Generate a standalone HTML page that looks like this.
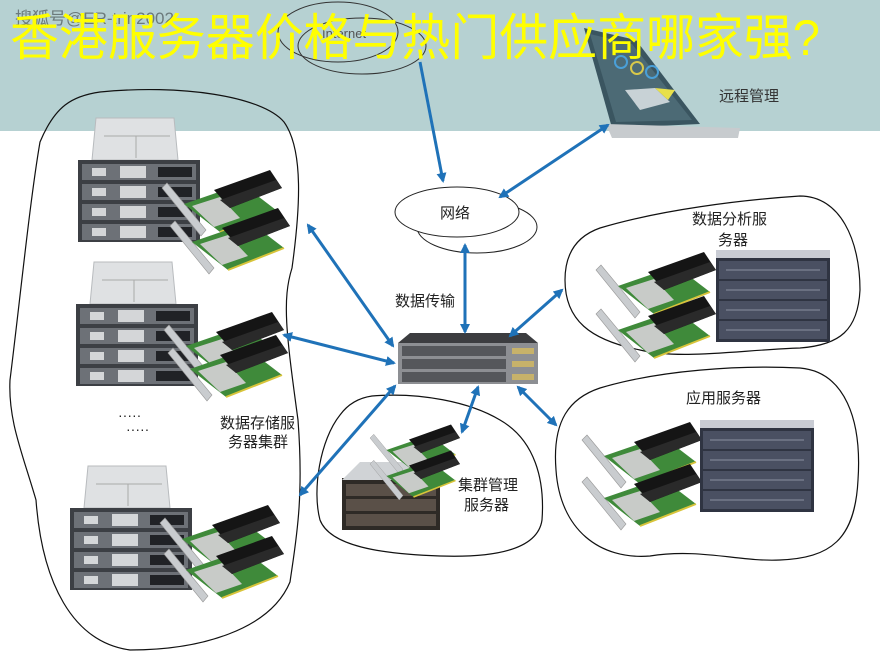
<!DOCTYPE html>
<html><head><meta charset="utf-8"><style>
html,body{margin:0;padding:0;background:#fff;}
svg{display:block;}
text{font-family:"Liberation Sans","Noto Sans CJK SC",sans-serif;}
</style></head><body>
<svg width="880" height="656" viewBox="0 0 880 656" xmlns="http://www.w3.org/2000/svg">
<defs>
<marker id="ah" markerWidth="10" markerHeight="10" refX="8" refY="5" orient="auto-start-reverse" markerUnits="userSpaceOnUse">
<path d="M0,0 L10,5 L0,10 Z" fill="#1f72b8"/>
</marker>
<g id="srv">
<polygon points="18,0 96,0 100,42 14,42" fill="#dfe1e3" stroke="#b8bbbe"/>
<line x1="26" y1="18" x2="92" y2="18" stroke="#aaa"/>
<line x1="58" y1="18" x2="58" y2="40" stroke="#aaa"/>
<rect x="0" y="42" width="122" height="82" fill="#3c3f44"/>
<g fill="#6d7177">
<rect x="4" y="46" width="114" height="16"/><rect x="4" y="66" width="114" height="16"/>
<rect x="4" y="86" width="114" height="16"/><rect x="4" y="106" width="114" height="16"/>
</g>
<g fill="#d4d6d8">
<rect x="14" y="50" width="14" height="8"/><rect x="14" y="70" width="14" height="8"/>
<rect x="14" y="90" width="14" height="8"/><rect x="14" y="110" width="14" height="8"/>
<rect x="42" y="48" width="26" height="12"/><rect x="42" y="68" width="26" height="12"/>
<rect x="42" y="88" width="26" height="12"/><rect x="42" y="108" width="26" height="12"/>
</g>
<g fill="#202226">
<rect x="80" y="49" width="34" height="10"/><rect x="80" y="69" width="34" height="10"/>
<rect x="80" y="89" width="34" height="10"/><rect x="80" y="109" width="34" height="10"/>
</g>
</g>
<g id="card">
<polygon points="0,8 5,3 44,50 39,56" fill="#c9cccf" stroke="#999" stroke-width="0.6"/>
<polygon points="22,24 80,4 114,30 58,52" fill="#3f8a3a"/>
<polygon points="30,26 58,17 78,38 52,47" fill="#c8cbc8"/>
<polygon points="52,10 108,-10 120,8 68,28" fill="#151515"/>
<polygon points="58,20 114,0 120,8 68,28" fill="#2a2a2a"/>
<line x1="58" y1="52" x2="114" y2="30" stroke="#d8c43a" stroke-width="2"/>
</g>
<g id="rack">
<rect x="0" y="0" width="114" height="8" fill="#c9ccd4"/>
<rect x="0" y="8" width="114" height="84" fill="#2f3442"/>
<g fill="#4a5062">
<rect x="3" y="11" width="108" height="18"/><rect x="3" y="31" width="108" height="18"/>
<rect x="3" y="51" width="108" height="18"/><rect x="3" y="71" width="108" height="18"/>
</g>
<g stroke="#8a90a0" stroke-width="1">
<line x1="10" y1="20" x2="104" y2="20"/><line x1="10" y1="40" x2="104" y2="40"/>
<line x1="10" y1="60" x2="104" y2="60"/><line x1="10" y1="80" x2="104" y2="80"/>
</g>
</g>
</defs>

<rect x="0" y="0" width="880" height="131" fill="#b6d1d2"/>
<text x="15" y="24" font-size="17" fill="#6c7a7b">搜狐号@ER-trin2002</text>

<ellipse cx="338" cy="32" rx="60" ry="30" fill="none" stroke="#333" stroke-width="1"/>
<ellipse cx="362" cy="46" rx="64" ry="28" fill="none" stroke="#333" stroke-width="1"/>
<text x="322" y="38" font-size="13" fill="#555">Internet</text>

<polygon points="584,28 636,40 700,124 612,128" fill="#3a5560"/>
<polygon points="590,34 632,44 692,120 616,122" fill="#4c6a75"/>
<circle cx="621" cy="62" r="6" fill="none" stroke="#4aa0d8" stroke-width="2"/>
<circle cx="637" cy="68" r="6" fill="none" stroke="#d8c84a" stroke-width="2"/>
<circle cx="652" cy="72" r="6" fill="none" stroke="#4aa0d8" stroke-width="2"/>
<polygon points="625,90 655,88 670,102 640,110" fill="#c8d2d6"/>
<polygon points="655,88 675,90 668,100" fill="#e8e04a"/>
<polygon points="606,124 740,128 738,138 612,138" fill="#c7cbce"/>
<text x="719" y="101" font-size="15" fill="#333">远程管理</text>

<text x="10" y="55" font-size="50" fill="#ffff00" textLength="810" lengthAdjust="spacingAndGlyphs">香港服务器价格与热门供应商哪家强?</text>

<ellipse cx="477" cy="227" rx="60" ry="26" fill="#fff" stroke="#222"/>
<ellipse cx="457" cy="212" rx="62" ry="25" fill="#fff" stroke="#222"/>
<text x="440" y="218" font-size="15" fill="#222">网络</text>

<path d="M100,92 C180,84 262,96 284,122 C304,150 300,210 292,268 C282,300 286,332 298,420 C304,500 296,540 290,582 C270,630 200,650 130,650 C72,642 42,582 36,500 C22,452 8,420 10,380 C20,300 30,200 40,142 C55,106 72,96 100,92 Z" fill="none" stroke="#111" stroke-width="1.2"/>
<path d="M600,228 C660,210 740,200 800,196 C840,196 860,240 860,290 C858,330 840,345 800,348 C740,350 680,360 640,350 C590,340 565,320 565,280 C565,250 580,235 600,228 Z" fill="none" stroke="#111" stroke-width="1.2"/>
<path d="M600,388 C660,370 740,365 800,368 C845,372 862,420 858,480 C855,540 830,558 780,560 C740,562 700,548 650,556 C600,560 560,530 556,470 C552,420 570,398 600,388 Z" fill="none" stroke="#111" stroke-width="1.2"/>
<path d="M372,396 C420,392 470,402 500,420 C535,440 545,480 542,520 C538,548 500,558 440,556 C380,554 330,546 320,520 C312,490 320,440 340,415 C348,404 358,398 372,396 Z" fill="none" stroke="#111" stroke-width="1.2"/>

<use href="#srv" x="78" y="118"/>
<use href="#card" x="162" y="180"/>
<use href="#card" x="170" y="218"/>
<use href="#srv" x="76" y="262"/>
<use href="#card" x="164" y="322"/>
<use href="#card" x="168" y="345"/>
<use href="#srv" x="70" y="466"/>
<use href="#card" x="160" y="515"/>
<use href="#card" x="164" y="546"/>
<text x="118" y="420" font-size="14" fill="#222">·····</text>
<text x="126" y="434" font-size="14" fill="#222">·····</text>
<text x="220" y="428" font-size="15" fill="#222">数据存储服</text>
<text x="228" y="447" font-size="15" fill="#222">务器集群</text>

<polygon points="410,333 526,333 538,343 398,343" fill="#3c3d40"/>
<rect x="398" y="343" width="140" height="41" fill="#8d8f93"/>
<g fill="#55575b">
<rect x="402" y="346" width="104" height="10"/><rect x="402" y="359" width="104" height="10"/><rect x="402" y="372" width="104" height="10"/>
</g>
<g fill="#c7b26a"><rect x="512" y="348" width="22" height="6"/><rect x="512" y="361" width="22" height="6"/><rect x="512" y="374" width="22" height="6"/></g>
<text x="395" y="306" font-size="15" fill="#222">数据传输</text>

<use href="#card" x="596" y="262"/>
<use href="#card" x="596" y="306"/>
<use href="#rack" x="716" y="250"/>
<text x="692" y="224" font-size="15" fill="#222">数据分析服</text>
<text x="718" y="245" font-size="15" fill="#222">务器</text>

<use href="#card" x="582" y="432"/>
<use href="#card" x="582" y="474"/>
<use href="#rack" x="700" y="420"/>
<text x="686" y="403" font-size="15" fill="#222">应用服务器</text>

<rect x="342" y="478" width="98" height="52" fill="#2e2a26"/>
<polygon points="360,462 430,462 440,480 342,480" fill="#d0d3d6"/>
<g fill="#5a5048"><rect x="346" y="484" width="90" height="12"/><rect x="346" y="499" width="90" height="12"/><rect x="346" y="514" width="90" height="12"/></g>
<use href="#card" x="370" y="432" transform="translate(370 432) scale(0.75) translate(-370 -432)"/>
<use href="#card" x="370" y="458" transform="translate(370 458) scale(0.75) translate(-370 -458)"/>
<text x="458" y="490" font-size="15" fill="#222">集群管理</text>
<text x="464" y="510" font-size="15" fill="#222">服务器</text>

<g stroke="#1f72b8" stroke-width="3" fill="none">
<line x1="420" y1="62" x2="443" y2="181" marker-end="url(#ah)"/>
<line x1="608" y1="125" x2="500" y2="197" marker-start="url(#ah)" marker-end="url(#ah)"/>
<line x1="465" y1="245" x2="465" y2="332" marker-start="url(#ah)" marker-end="url(#ah)"/>
<line x1="308" y1="225" x2="393" y2="346" marker-start="url(#ah)" marker-end="url(#ah)"/>
<line x1="284" y1="335" x2="394" y2="363" marker-start="url(#ah)" marker-end="url(#ah)"/>
<line x1="300" y1="495" x2="395" y2="386" marker-start="url(#ah)" marker-end="url(#ah)"/>
<line x1="462" y1="432" x2="478" y2="387" marker-start="url(#ah)" marker-end="url(#ah)"/>
<line x1="562" y1="290" x2="510" y2="336" marker-start="url(#ah)" marker-end="url(#ah)"/>
<line x1="556" y1="425" x2="518" y2="387" marker-start="url(#ah)" marker-end="url(#ah)"/>
</g>
</svg>
</body></html>
